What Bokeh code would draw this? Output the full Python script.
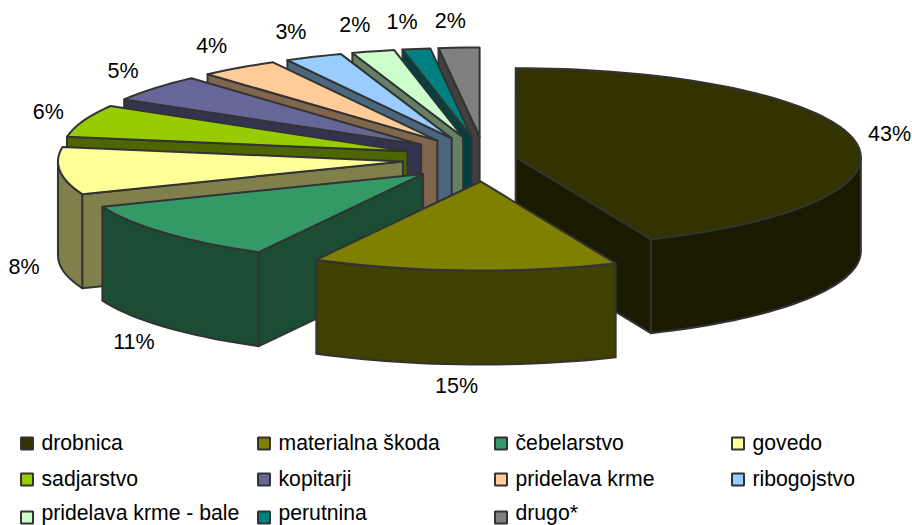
import math
from bokeh.plotting import figure
from bokeh.models import ColumnDataSource, Range1d
from bokeh.core.properties import value
from bokeh.embed import file_html
from bokeh.resources import INLINE

# ---- data -------------------------------------------------------------
categories = ["drobnica", "materialna škoda", "čebelarstvo", "govedo", "sadjarstvo",
              "kopitarji", "pridelava krme", "ribogojstvo", "pridelava krme - bale",
              "perutnina", "drugo*"]
shares = [43.6, 14.3, 11.1, 8.6, 5.9, 4.9, 3.7, 2.7, 2.0, 1.3, 1.9]
share_labels = ["43%", "15%", "11%", "8%", "6%", "5%", "4%", "3%", "2%", "1%", "2%"]
top_colors = ["#333300", "#808000", "#339966", "#FFFF99", "#99CC00", "#666699",
              "#FFCC99", "#99CCFF", "#CCFFCC", "#008080", "#808080"]
wall_colors = ["#1A1A00", "#404000", "#1A4D33", "#80804D", "#4D6600", "#33334D",
               "#80664D", "#4D6680", "#668066", "#004040", "#404040"]

# ---- layout ------------------------------------------------------------
CX, CY = 484, 158.5
RX, RY = 345, 89
DEPTH = 94
EXPLODE_X, EXPLODE_Y = 82, 22.5
FIRST_EXPLODE_SCALE = 0.39
FONT = value("Liberation Sans")
EDGE = "#333333"


def pt(ax, ay, deg, down=0.0):
    a = math.radians(deg)
    return ax + RX * math.sin(a), ay - RY * math.cos(a) + down


def arc(ax, ay, a0, a1, down=0.0):
    n = max(2, int(abs(a1 - a0) / 2) + 1)
    return [pt(ax, ay, a0 + (a1 - a0) * i / (n - 1), down) for i in range(n)]


total = sum(shares)
bounds = [0.0]
for s in shares:
    bounds.append(bounds[-1] + s / total * 360.0)

xs, ys, fills = [], [], []
label_x, label_y = [], []


def add(poly, color):
    xs.append([q[0] for q in poly])
    ys.append([q[1] for q in poly])
    fills.append(color)


apexes = []
for i in range(len(shares)):
    mid = math.radians((bounds[i] + bounds[i + 1]) / 2)
    scale = FIRST_EXPLODE_SCALE if i == 0 else 1.0
    apexes.append((CX + scale * EXPLODE_X * math.sin(mid),
                   CY - scale * EXPLODE_Y * math.cos(mid)))

# painter's order: back slices first, the two big front ones last
order = list(range(len(shares) - 1, 1, -1)) + [0, 1]
for i in order:
    a0, a1 = bounds[i], bounds[i + 1]
    ax, ay = apexes[i]
    s0, s1 = math.sin(math.radians(a0)), math.sin(math.radians(a1))
    if s0 <= 1e-9:  # start face looks toward the viewer
        c = pt(ax, ay, a0)
        add([(ax, ay), c, (c[0], c[1] + DEPTH), (ax, ay + DEPTH)], wall_colors[i])
    if s1 > 1e-9:   # end face looks toward the viewer
        c = pt(ax, ay, a1)
        add([(ax, ay), c, (c[0], c[1] + DEPTH), (ax, ay + DEPTH)], wall_colors[i])
    lo, hi = max(a0, 90.0), min(a1, 270.0)
    if hi > lo:     # rim
        add(arc(ax, ay, lo, hi) + arc(ax, ay, hi, lo, DEPTH), wall_colors[i])
    add([(ax, ay)] + arc(ax, ay, a0, a1), top_colors[i])

for i in range(len(shares)):
    m = (bounds[i] + bounds[i + 1]) / 2
    ax, ay = apexes[i]
    sn, cs = math.sin(math.radians(m)), math.cos(math.radians(m))
    ox, oy = pt(ax, ay, m)
    label_x.append(ox + 36 * math.copysign(abs(sn) ** 0.5, sn))
    label_y.append(oy - (27 if cs > 0 else 22) * cs + (DEPTH if cs < 0 else 0))

p = figure(width=912, height=525, output_backend="svg", toolbar_location=None,
           x_range=Range1d(0, 912), y_range=Range1d(525, 0),
           x_axis_type=None, y_axis_type=None, min_border=0,
           outline_line_color=None, background_fill_color="white")
p.grid.visible = False

p.patches("x", "y", fill_color="c", line_color=EDGE, line_width=2, line_join="round",
          source=ColumnDataSource(dict(x=xs, y=ys, c=fills)))

p.text(label_x, label_y, text=share_labels, text_font=FONT, text_font_size="21.5px",
       text_color="#000000", text_align="center", text_baseline="middle")

# legend
COL0, COLSTEP = 26.5, 237
ROWS = [443, 479, 517]
TEXT_ROWS = [442, 478, 512]
lx, ly, tx, ty = [], [], [], []
for i, _ in enumerate(categories):
    r, c = divmod(i, 4)
    lx.append(COL0 + c * COLSTEP)
    ly.append(ROWS[r])
    tx.append(COL0 + c * COLSTEP + 14.5)
    ty.append(TEXT_ROWS[r])
p.rect(lx, ly, width=12, height=12, fill_color=top_colors, line_color=EDGE, line_width=2)
p.text(tx, ty, text=categories, text_font=FONT, text_font_size="21.2px",
       text_color="#000000", text_align="left", text_baseline="middle")

open("out.html", "w").write(file_html(p, INLINE))
